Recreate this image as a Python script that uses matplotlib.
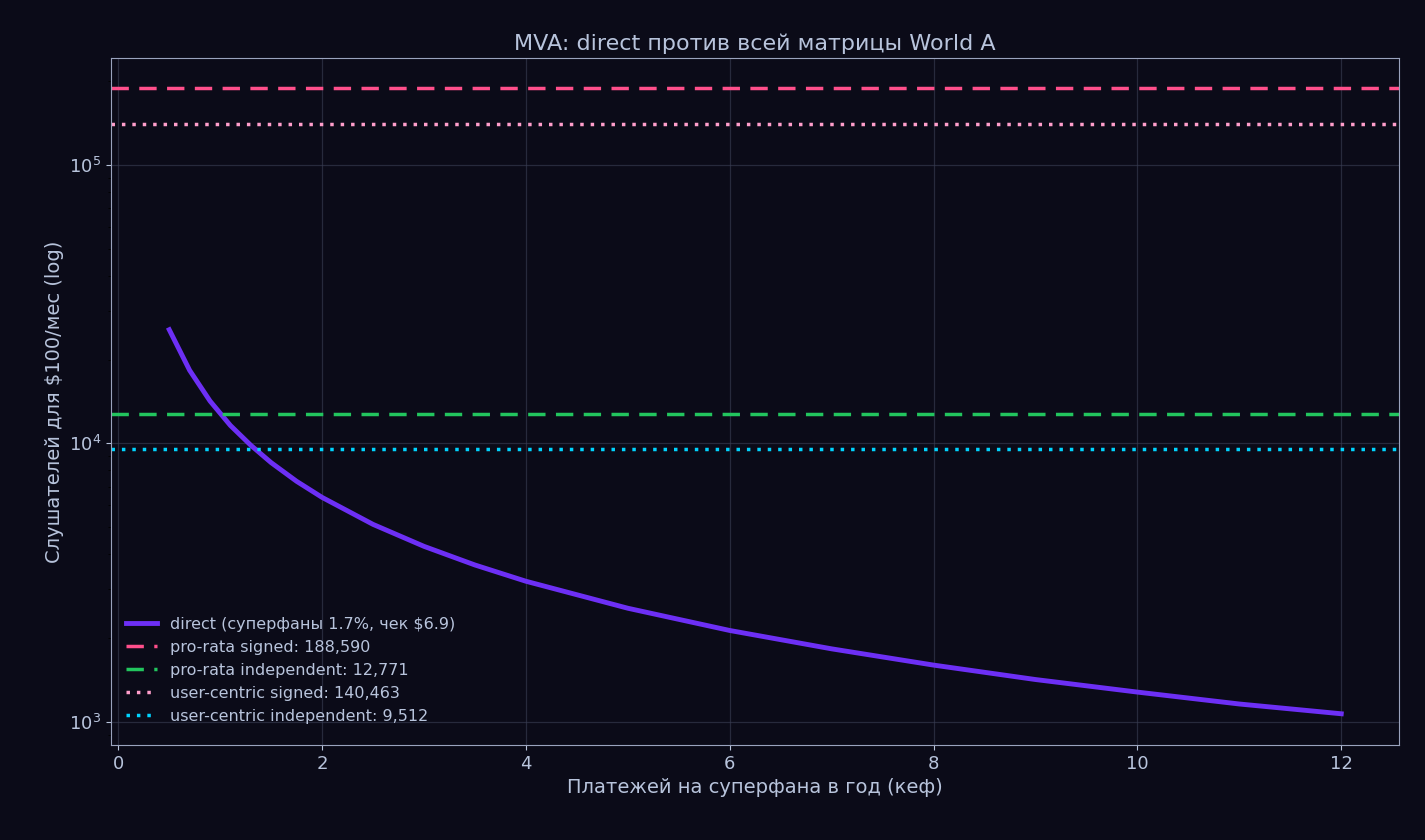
import matplotlib
matplotlib.use("Agg")
import matplotlib.pyplot as plt

payments = [0.5, 0.7, 0.9, 1.1, 1.3, 1.5, 1.75, 2, 2.5, 3, 3.5, 4, 5, 6, 7, 8, 9, 10, 11, 12]
direct_listeners = [25600, 18300, 14200, 11600, 9850, 8530, 7310, 6400, 5120, 4270, 3660,
                    3200, 2560, 2130, 1830, 1600, 1420, 1280, 1160, 1070]
ref_labels = ["pro-rata signed: 188,590", "pro-rata independent: 12,771",
              "user-centric signed: 140,463", "user-centric independent: 9,512"]
ref_values = [188590, 12771, 140463, 9512]
ref_colors = ["#ff4f8b", "#22c55e", "#ff9ecb", "#00d4ff"]
ref_styles = [(0, (5, 3)), (0, (5, 3)), (0, (1, 2)), (0, (1, 2))]

bg = "#0b0b18"
fg = "#b8c4dc"
fig, ax = plt.subplots(figsize=(14.25, 8.4), dpi=100)
fig.patch.set_facecolor(bg)
ax.set_facecolor(bg)

ax.plot(payments, direct_listeners, color="#6d2ff5", lw=3.5,
        label="direct (суперфаны 1.7%, чек $6.9)")
for v, l, c, s in zip(ref_values, ref_labels, ref_colors, ref_styles):
    ax.axhline(v, color=c, ls=s, lw=2.5, label=l)

ax.set_yscale("log")
ax.set_xlim(-0.07, 12.57)
ax.set_ylim(826, 242000)
ax.grid(True, color="#3a3f55", lw=0.9, alpha=0.6)
for sp in ax.spines.values():
    sp.set_color("#9aa3bd")
ax.tick_params(colors=fg, labelsize=13)
ax.set_title("MVA: direct против всей матрицы World A", color=fg, fontsize=16)
ax.set_xlabel("Платежей на суперфана в год (кеф)", color=fg, fontsize=14)
ax.set_ylabel("Слушателей для $100/мес (log)", color=fg, fontsize=14)
leg = ax.legend(loc="lower left", frameon=False, fontsize=11.5, labelcolor=fg,
                bbox_to_anchor=(0.0, 0.01))
plt.subplots_adjust(left=0.078, right=0.982, top=0.931, bottom=0.113)
fig.savefig("out.png", facecolor=bg)
